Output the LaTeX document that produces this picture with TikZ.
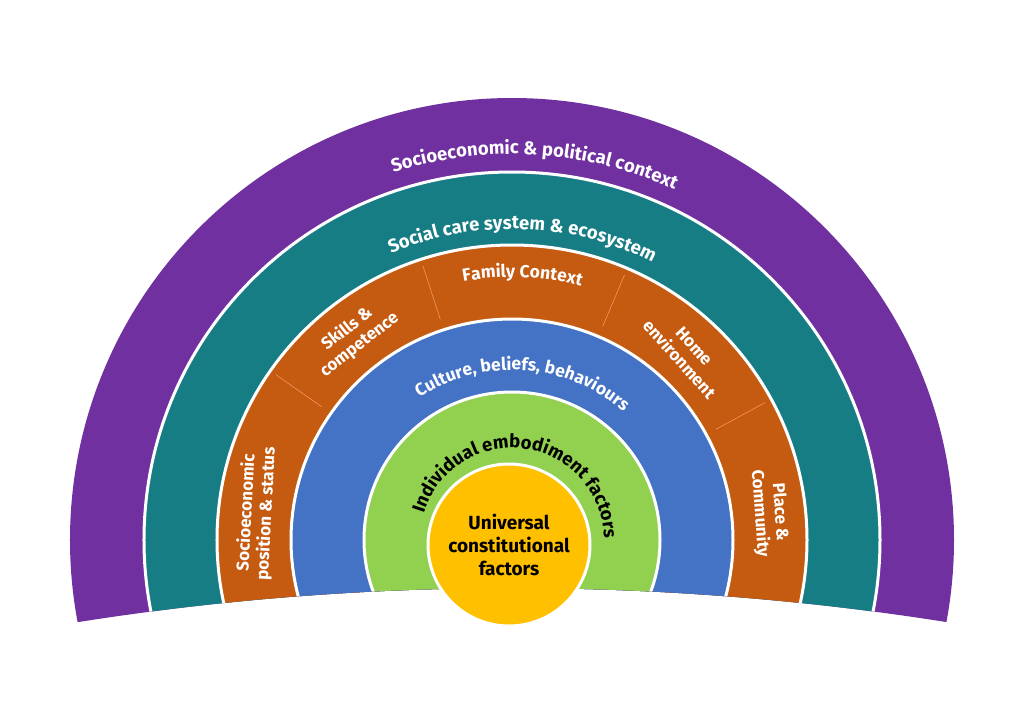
\documentclass[tikz,border=0pt]{standalone}
\usepackage{fontspec}
\setsansfont{Fira Sans}
\usetikzlibrary{decorations.text}
\definecolor{ringpurple}{HTML}{7030A0}
\definecolor{ringteal}{HTML}{167D85}
\definecolor{ringorange}{HTML}{C55A11}
\definecolor{ringblue}{HTML}{4472C4}
\definecolor{ringgreen}{HTML}{92D050}
\definecolor{coreyellow}{HTML}{FFC000}
\definecolor{sepline}{HTML}{EE9A60}
\tikzset{
  ring/.style={fill=#1,draw=white,line width=3pt},
  sep/.style={draw=sepline,line width=0.6pt},
  lbl/.style={text=white,font=\sffamily\bfseries\fontsize{17}{20}\selectfont,align=center,inner sep=0pt},
}
\newcommand{\arclabel}[5]{% angle, radius, text, colour, size
  \path[decorate,decoration={text along path,text align=center,
    text={|\sffamily\bfseries\fontsize{#5}{#5}\selectfont\color{#4}|#3}}]
    ({#1+100}:#2) arc[start angle={#1+100},end angle={#1-100},radius=#2];}
\begin{document}
\begin{tikzpicture}[x=1pt,y=1pt]
\useasboundingbox (-512,-184) rectangle (512,540);
\begin{scope}
\clip (-512,540) -- (512,540) -- (512,-95.4)
  arc[start angle=79.42,end angle=100.58,radius=2787] -- cycle;
\fill[ringpurple] (0,0) circle (442);
\filldraw[ring=ringteal] (0,0) circle (368);
\filldraw[ring=ringorange] (0,0) circle (295);
\filldraw[ring=ringblue] (0,0) circle (221);
\filldraw[ring=ringgreen] (0,0) circle (148);
\foreach \a in {145,108,67,28.5}
  \draw[sep] (\a:232) -- (\a:288);
\end{scope}
\node[circle,minimum size=162,fill=coreyellow,draw=white,line width=3pt,
  align=center,font=\sffamily\bfseries\fontsize{19}{23}\selectfont,inner sep=0pt]
  (core) at (-3,-5) {Universal\\constitutional\\factors};
\arclabel{86.5}{386}{Socioeconomic {\&} political context}{white}{18.5}
\arclabel{88}{311}{Social care system {\&} ecosystem}{white}{18.5}
\arclabel{87.7}{263}{Family Context}{white}{17.5}
\arclabel{86}{170}{Culture, beliefs, behaviours}{white}{17.5}
\arclabel{82}{92}{Individual embodiment factors}{black}{18.5}
\node[lbl,rotate=87] (socio) at (174:257) {Socioeconomic\\position {\&} status};
\node[lbl,rotate=38] (skills) at (128:258) {Skills {\&}\\competence};
\node[lbl,rotate=-48] (home) at (47:256) {Home\\environment};
\node[lbl,rotate=-86] (place) at (6:259) {Place {\&}\\Community};
\end{tikzpicture}
\end{document}
